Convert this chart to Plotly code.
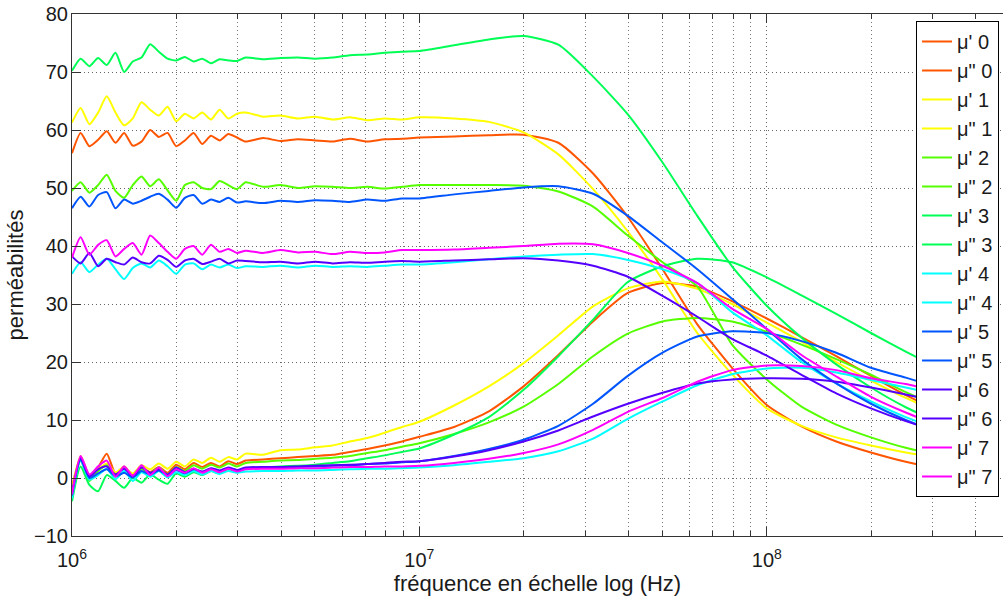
import plotly.graph_objects as go

# Frequencies (Hz)
freq = [1.000e6, 1.059e6, 1.122e6, 1.189e6, 1.259e6, 1.334e6, 1.413e6, 1.496e6, 1.585e6, 1.679e6,
        1.778e6, 1.884e6, 1.995e6, 2.113e6, 2.239e6, 2.371e6, 2.512e6, 2.661e6, 2.818e6, 2.985e6,
        3.162e6, 3.548e6, 3.981e6, 4.467e6, 5.012e6, 5.623e6, 6.310e6, 7.079e6, 7.943e6, 8.913e6,
        1.000e7, 1.259e7, 1.585e7, 1.995e7, 2.512e7, 3.162e7, 3.981e7, 5.012e7, 6.310e7, 7.943e7,
        1.000e8, 1.259e8, 1.585e8, 1.995e8, 2.512e8, 3.162e8, 3.981e8]

mu_p0 = [56.0, 59.5, 57.2, 58.3, 59.8, 57.8, 59.5, 57.3, 58.0, 60.0, 58.8, 59.5, 57.2, 58.2, 59.5, 57.6,
         59.0, 58.2, 59.3, 58.7, 58.0, 58.6, 58.1, 58.4, 58.2, 58.0, 58.5, 58.0, 58.4, 58.5,
         58.7, 58.9, 59.1, 59.2, 57.8, 52.5, 45.0, 36.0, 26.5, 19.0, 12.6, 8.9, 6.3, 4.4, 2.8, 1.6, 0.7]
mu_s0 = [-1.5, 3.5, 0.0, 1.8, 4.2, 0.8, 2.0, 0.5, 1.8, 1.0, 1.9, 0.9, 2.3, 1.5, 2.6, 1.9, 2.6, 2.0,
         2.9, 2.4, 3.0, 3.2, 3.4, 3.6, 3.8, 4.0, 4.5, 5.0, 5.6, 6.3,
         7.1, 8.8, 11.5, 15.8, 21.2, 27.0, 31.9, 33.6, 33.0, 30.5, 27.5, 24.3, 21.0, 17.6, 14.3, 11.6, 9.3]
mu_p1 = [61.3, 63.8, 61.0, 63.0, 65.8, 63.0, 60.8, 62.0, 64.8, 63.5, 62.5, 64.0, 61.5, 62.8, 62.0, 63.0,
         61.8, 63.5, 62.0, 62.8, 63.0, 62.3, 62.5, 62.0, 62.3, 61.8, 62.2, 61.7, 62.0, 61.8,
         62.2, 62.0, 61.4, 59.6, 55.8, 49.8, 42.5, 34.2, 25.0, 17.9, 12.0, 9.0, 7.0, 5.6, 4.4, 3.4, 2.5]
mu_s1 = [-2.0, 3.8, 0.5, 1.5, 2.5, 1.0, 1.8, 0.8, 2.2, 1.5, 2.5, 1.6, 2.8, 2.0, 3.2, 2.6, 3.5, 2.8,
         3.6, 3.2, 4.2, 4.0, 4.8, 4.9, 5.3, 5.6, 6.3, 6.9, 7.8, 8.8,
         9.7, 12.5, 15.8, 19.8, 24.6, 29.6, 32.7, 33.9, 32.6, 30.0, 26.8, 23.5, 20.0, 16.8, 13.8, 11.2, 9.0]
mu_p2 = [49.5, 51.0, 49.2, 50.5, 52.3, 49.5, 48.3, 50.5, 52.0, 50.3, 51.5, 49.6, 47.8, 50.5, 51.0, 50.0,
         49.8, 51.2, 50.5, 49.8, 51.0, 50.2, 50.5, 50.0, 50.3, 50.2, 50.0, 50.2, 49.9, 50.2,
         50.5, 50.5, 50.5, 50.4, 49.4, 46.8, 41.8, 37.2, 33.0, 23.0, 17.0, 12.3, 9.2, 7.0, 5.2, 3.9, 2.9]
mu_s2 = [-2.5, 3.0, -0.5, 1.2, 2.2, 0.5, 1.0, 0.2, 1.5, 0.8, 1.8, 0.6, 1.9, 1.2, 2.2, 1.6, 2.3, 1.8,
         2.5, 2.0, 2.6, 2.8, 3.0, 3.1, 3.3, 3.5, 3.8, 4.3, 4.8, 5.4,
         6.0, 7.6, 9.6, 12.3, 16.2, 21.0, 24.9, 27.0, 27.6, 27.0, 25.2, 23.0, 20.5, 17.8, 14.8, 12.3, 10.2]
mu_p3 = [70.2, 72.3, 71.0, 72.4, 71.2, 73.3, 70.0, 71.8, 72.5, 74.8, 73.5, 72.3, 72.0, 72.6, 71.8, 72.3,
         71.5, 72.2, 72.0, 71.9, 72.5, 72.2, 72.4, 72.5, 72.3, 72.5, 72.9, 73.0, 73.3, 73.5,
         73.6, 74.6, 75.6, 76.2, 74.7, 69.2, 62.7, 54.4, 45.2, 36.5, 29.7, 24.2, 19.6, 15.6, 12.2, 9.6, 7.6]
mu_s3 = [-4.0, 2.0, -1.2, -2.3, 0.5, -0.5, -1.7, 0.0, -0.8, 0.6, -0.3, -1.0, 0.8, 0.2, 1.0, 0.5, 1.2, 0.8,
         1.5, 1.0, 1.6, 1.8, 2.0, 2.1, 2.3, 2.6, 2.9, 3.4, 3.9, 4.5,
         5.1, 7.5, 10.5, 15.2, 21.0, 27.3, 33.8, 36.5, 37.8, 37.2, 34.6, 31.5, 28.3, 25.0, 21.8, 18.8, 16.0]
mu_p4 = [35.2, 37.2, 35.5, 36.8, 37.8, 36.0, 34.3, 36.2, 37.0, 36.3, 37.5, 36.5, 35.2, 36.8, 37.0, 36.0,
         36.8, 36.3, 36.8, 36.2, 36.5, 36.4, 36.6, 36.3, 36.6, 36.4, 36.5, 36.4, 36.6, 36.8,
         36.8, 37.2, 37.7, 38.2, 38.5, 38.6, 37.6, 36.0, 33.6, 28.6, 24.6, 20.0, 16.3, 13.2, 10.5, 8.4, 6.7]
mu_s4 = [-3.5, 3.0, -0.3, 0.5, 1.6, -0.2, 1.2, -0.5, 1.0, 0.2, 1.2, 0.1, 1.0, 0.5, 1.2, 0.6, 1.2, 0.7,
         1.2, 0.9, 1.1, 1.2, 1.2, 1.3, 1.3, 1.4, 1.5, 1.6, 1.6, 1.7,
         1.8, 2.2, 2.8, 3.4, 4.6, 6.8, 10.2, 13.2, 16.0, 17.9, 18.9, 19.0, 18.2, 16.9, 15.6, 14.3, 13.0]
mu_p5 = [46.5, 48.5, 46.8, 48.8, 49.3, 46.5, 48.0, 47.3, 47.8, 48.5, 49.0, 48.0, 46.6, 48.3, 48.8, 47.3,
         48.0, 47.6, 48.3, 47.5, 47.7, 47.4, 47.8, 47.6, 47.9, 47.8, 47.6, 48.0, 47.8, 48.2,
         48.2, 48.9, 49.5, 50.1, 50.3, 49.0, 45.2, 40.6, 36.0, 30.9, 25.7, 20.5, 16.3, 12.8, 10.0, 7.8, 6.0]
mu_s5 = [-3.0, 3.2, 0.0, 0.8, 1.5, 0.3, 0.9, 0.1, 1.2, 0.6, 1.3, 0.5, 1.4, 0.8, 1.5, 1.0, 1.6, 1.2,
         1.7, 1.3, 1.7, 1.8, 1.9, 1.9, 2.0, 2.1, 2.2, 2.4, 2.5, 2.7,
         2.9, 3.8, 5.0, 6.6, 9.0, 12.8, 17.6, 21.6, 24.4, 25.3, 25.0, 23.6, 21.6, 19.0, 17.3, 15.5, 13.8]
mu_p6 = [38.2, 37.0, 38.8, 36.5, 37.8, 37.2, 36.8, 38.0, 37.2, 37.0, 38.3, 37.6, 36.4, 37.5, 37.8, 36.9,
         37.3, 37.8, 37.0, 37.5, 37.4, 37.2, 37.3, 37.0, 37.3, 37.0, 37.2, 37.1, 37.3, 37.4,
         37.3, 37.5, 37.7, 37.9, 37.5, 36.6, 34.7, 31.4, 27.8, 24.0, 21.1, 17.8, 14.6, 12.0, 9.8, 8.0, 6.5]
mu_s6 = [-2.5, 3.5, 0.3, 1.5, 2.0, 0.6, 1.6, 0.3, 1.8, 0.9, 1.5, 0.6, 1.8, 1.0, 1.6, 1.1, 1.7, 1.3,
         1.8, 1.4, 1.8, 1.9, 1.9, 2.0, 2.1, 2.2, 2.3, 2.4, 2.6, 2.8,
         2.9, 3.7, 4.8, 6.3, 8.2, 10.6, 12.8, 14.7, 16.3, 17.0, 17.2, 17.1, 16.6, 15.6, 14.4, 13.1, 11.9]
mu_p7 = [38.0, 41.5, 38.5, 40.2, 41.0, 38.2, 39.5, 40.5, 38.5, 41.8, 40.5, 39.0, 37.8, 39.5, 40.0, 38.5,
         40.2, 39.0, 39.5, 38.8, 39.2, 38.8, 39.3, 38.9, 39.0, 38.6, 39.0, 38.8, 38.9, 39.3,
         39.3, 39.4, 39.7, 40.0, 40.4, 40.3, 38.8, 36.6, 33.6, 29.2, 25.7, 21.2, 17.5, 14.0, 11.3, 9.0, 7.2]
mu_s7 = [-2.8, 3.8, 0.6, 2.0, 3.0, 0.2, 2.0, 0.4, 2.2, 0.5, 1.8, 0.3, 1.5, 0.9, 1.7, 0.9, 1.5, 1.0,
         1.6, 1.1, 1.5, 1.6, 1.6, 1.7, 1.7, 1.8, 1.9, 1.9, 2.0, 2.0,
         2.1, 2.6, 3.3, 4.3, 5.8, 8.3, 11.4, 13.8, 16.6, 18.6, 19.4, 19.3, 18.6, 17.2, 16.2, 14.9, 13.6]

colors = ["#FF5500", "#FFFF00", "#55FF00", "#00FF55", "#00FFFF", "#0055FF", "#5500FF", "#FF00FF"]
series_p = [mu_p0, mu_p1, mu_p2, mu_p3, mu_p4, mu_p5, mu_p6, mu_p7]
series_s = [mu_s0, mu_s1, mu_s2, mu_s3, mu_s4, mu_s5, mu_s6, mu_s7]

FONT = "Liberation Sans, Arial, Helvetica, sans-serif"

fig = go.Figure()
for i in range(8):
    for name, ys in ((f"μ' {i}", series_p[i]), (f'μ" {i}', series_s[i])):
        fig.add_trace(go.Scatter(
            x=freq, y=ys, mode="lines", name=name,
            line=dict(color=colors[i], width=2, shape="spline", smoothing=0.6),
        ))

major_ticks = [1e6, 1e7, 1e8]
major_text = ["10<sup>6</sup>", "10<sup>7</sup>", "10<sup>8</sup>"]
minor_ticks = [m * d for d in (1e6, 1e7, 1e8) for m in range(2, 10)]

fig.update_layout(
    width=1003, height=598,
    margin=dict(l=72, r=0, t=14, b=62),
    paper_bgcolor="white", plot_bgcolor="white",
    font=dict(family=FONT, size=20, color="#1a1a1a"),
    showlegend=True,
    legend=dict(
        x=0.9066, y=0.9866, xanchor="left", yanchor="top",
        bgcolor="white", bordercolor="black", borderwidth=1,
        font=dict(family=FONT, size=20, color="#1a1a1a"),
        traceorder="normal", itemwidth=30,
    ),
    xaxis=dict(
        type="log", range=[6, 8.68], automargin=False,
        tickvals=major_ticks, ticktext=major_text,
        ticks="inside", ticklen=9, tickcolor="#333", ticklabelstandoff=6,
        ticklabeloverflow="allow",
        showline=True, linecolor="#333", linewidth=1, mirror="ticks",
        showgrid=True, gridcolor="#666", griddash="1px,3px", gridwidth=1,
        minor=dict(tickvals=minor_ticks, ticks="inside", ticklen=5, tickcolor="#333",
                   showgrid=True, gridcolor="#777", griddash="1px,3px", gridwidth=1),
        title=dict(text="fréquence en échelle log (Hz)", font=dict(size=22), standoff=2),
        zeroline=False,
    ),
    yaxis=dict(
        range=[-10, 80], tick0=0, dtick=10, automargin=False,
        ticks="inside", ticklen=9, tickcolor="#333", ticklabelstandoff=-1,
        ticklabeloverflow="allow",
        showline=True, linecolor="#333", linewidth=1, mirror=False,
        showgrid=True, gridcolor="#666", griddash="1px,3px", gridwidth=1,
        zeroline=False,
        title=dict(text="perméabilités", font=dict(size=22), standoff=4),
    ),
)

# remove the default 8px page margin so the figure sits at the window's top-left corner
fig.write_html("out.html", config={"displayModeBar": False},
               post_script="document.body.style.margin='0';document.body.style.overflow='hidden';")
